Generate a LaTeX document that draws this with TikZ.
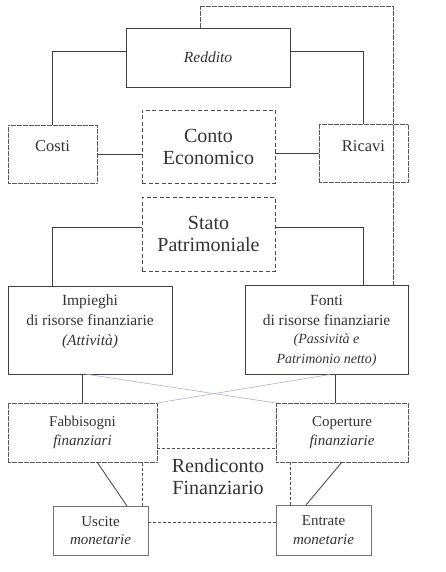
\documentclass[tikz,border=0pt]{standalone}
\usepackage{fontspec}
\setmainfont{Liberation Serif}
\newcommand{\smallit}{\fontsize{14}{17}\selectfont\itshape}
\definecolor{crossgray}{RGB}{172,176,196}
\begin{document}
\begin{tikzpicture}[x=1pt,y=-1pt,
  every node/.style={inner sep=0pt, outer sep=0pt, text=black!80},
  solidbox/.style={draw=black!75, line width=0.9pt, rectangle},
  dotbox/.style={draw=black!65, line width=0.9pt, dash pattern=on 0.6pt off 0.6pt, rectangle},
  dashbox/.style={draw=black!70, line width=0.9pt, dash pattern=on 4pt off 2.5pt, rectangle},
  conn/.style={draw=black!75, line width=0.8pt},
  dotconn/.style={draw=black!65, line width=0.8pt, dash pattern=on 0.6pt off 0.6pt},
  dashconn/.style={draw=black!70, line width=0.8pt, dash pattern=on 3pt off 2pt},
  crossconn/.style={draw=crossgray, line width=0.6pt},
  normtxt/.style={font=\fontsize{15.5}{20}\selectfont, align=center},
  bigtxt/.style={font=\fontsize{20}{22}\selectfont, align=center},
  smalltxt/.style={font=\fontsize{15}{18.5}\selectfont, align=center}
]
\useasboundingbox (0,0) rectangle (446,572);

% boxes
\node[solidbox, minimum width=164pt, minimum height=59pt, normtxt] (redd) at (208,57.5) {\itshape Reddito};
\node[dotbox, minimum width=89pt, minimum height=58pt] (costi) at (52.5,154) {};
\node[normtxt, font=\fontsize{16.5}{20}\selectfont] (costit) at (52.5,146) {Costi};
\node[dashbox, minimum width=133pt, minimum height=73pt, bigtxt] (ce) at (208.5,146.5) {Conto\\Economico};
\node[dotbox, minimum width=89pt, minimum height=58pt] (ricavi) at (363.5,153.5) {};
\node[normtxt, font=\fontsize{16.5}{20}\selectfont] (ricavit) at (363.5,146) {Ricavi};
\node[dashbox, minimum width=133pt, minimum height=74pt, bigtxt] (sp) at (208.5,234) {Stato\\Patrimoniale};
\node[solidbox, minimum width=164pt, minimum height=88pt] (imp) at (90,330) {};
\node[normtxt] (impt) at (90,322) {Impieghi\\di risorse finanziarie\\\itshape (Attività)};
\node[solidbox, minimum width=163pt, minimum height=89pt] (fonti) at (326.5,330) {};
\node[normtxt] (fontit) at (326.5,331) {Fonti\\di risorse finanziarie\\[-2pt]\smallit (Passività e\\\smallit Patrimonio netto)};
\node[dotbox, minimum width=149pt, minimum height=59pt, smalltxt] (fabb) at (82.5,432.5) {Fabbisogni\\\itshape finanziari};
\node[dotbox, minimum width=132pt, minimum height=59pt, smalltxt] (cop) at (342,432.5) {Coperture\\\itshape finanziarie};
\node[bigtxt] (rend) at (218,477) {Rendiconto\\Finanziario};
\node[draw=black!55, line width=0.7pt, minimum width=95pt, minimum height=49pt, smalltxt] (usc) at (100.5,530.5) {Uscite\\\itshape monetarie};
\node[draw=black!55, line width=0.7pt, minimum width=95pt, minimum height=50pt, smalltxt] (ent) at (323.5,530) {Entrate\\\itshape monetarie};

% top connectors
\path[conn] ([yshift=6.5pt]redd.west) -| (costi.north);
\path[conn] ([yshift=6.5pt]redd.east) -| (ricavi.north);
\path[conn] (costi.east) -- (costi.east -| ce.west);
\path[conn] (ce.east |- ricavi.west) -- (ricavi.west);
\coordinate (loopc) at (393,6);
\path[dotconn] ([xshift=-8pt]redd.north) |- (loopc) -- (loopc |- fonti.north);

% stato patrimoniale
\path[conn] ([yshift=7pt]sp.west) -| ([xshift=-38pt]imp.north);
\path[conn] ([yshift=7pt]sp.east) -| ([xshift=36.5pt]fonti.north);

% down to fabbisogni / coperture
\path[conn] (fabb.north |- imp.south) -- (fabb.north);
\path[conn] ([xshift=-7pt]cop.north |- fonti.south) -- ([xshift=-7pt]cop.north);
\path[crossconn] ([xshift=-5pt]imp.south) -- (cop.north west);
\path[crossconn] ([xshift=3.5pt]fonti.south) -- (fabb.north east);

% rendiconto
\path[dashconn] ([yshift=-15.5pt]fabb.east) -- ([yshift=-15.5pt]fabb.east -| cop.west);
\path[conn] ([xshift=14.5pt]fabb.south) -- ([xshift=26.5pt]usc.north);
\path[dashconn] ([xshift=41.5pt]usc.north) -- ([xshift=41.5pt]usc.north |- fabb.south);
\path[conn] (cop.south) -- ([xshift=-17.5pt]ent.north);
\path[dashconn] ([xshift=-33.5pt]ent.north) -- ([xshift=-33.5pt]ent.north |- cop.south);
\path[dashconn] ([yshift=8.5pt]usc.east) -- ([yshift=8.5pt]usc.east -| ent.west);
\end{tikzpicture}
\end{document}
